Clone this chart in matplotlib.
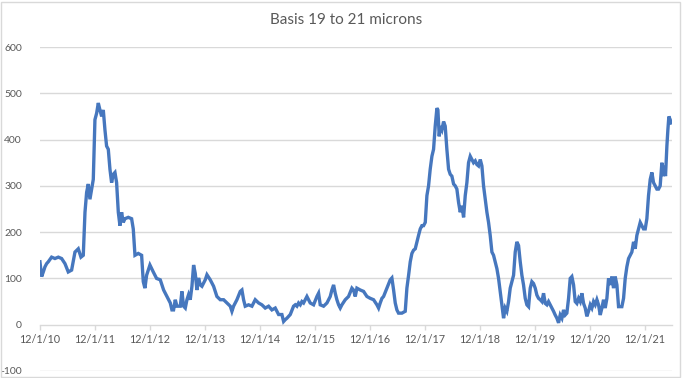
import datetime as dt
import matplotlib
matplotlib.use("Agg")
import matplotlib.pyplot as plt
import matplotlib.dates as mdates
from matplotlib.patches import Rectangle

plt.rcParams['font.family'] = ['Lato', 'DejaVu Sans']

title = "Basis 19 to 21 microns"

# decimal years (Dec 1 2010 ~ 2010.917)
years = [
    2010.916, 2010.947, 2010.977, 2011.007, 2011.038, 2011.068, 2011.128, 2011.189, 2011.250, 2011.310,
    2011.371, 2011.431, 2011.492, 2011.553, 2011.613, 2011.662, 2011.704, 2011.735, 2011.765, 2011.795,
    2011.825, 2011.856, 2011.886, 2011.916, 2011.947, 2011.977, 2012.007, 2012.038, 2012.068, 2012.098,
    2012.128, 2012.159, 2012.189, 2012.219, 2012.250, 2012.280, 2012.310, 2012.341, 2012.371, 2012.401,
    2012.431, 2012.462, 2012.522, 2012.583, 2012.613, 2012.644, 2012.704, 2012.765, 2012.795, 2012.825,
    2012.856, 2012.916, 2012.977, 2013.037,
    2013.104, 2013.165, 2013.225, 2013.286, 2013.316, 2013.346, 2013.377, 2013.407, 2013.468, 2013.498,
    2013.528, 2013.559, 2013.589, 2013.619, 2013.649, 2013.680, 2013.710, 2013.740, 2013.771, 2013.801,
    2013.831, 2013.862, 2013.922, 2013.953, 2014.013, 2014.074, 2014.134, 2014.195, 2014.256, 2014.316,
    2014.377, 2014.407, 2014.437, 2014.498, 2014.559, 2014.589, 2014.619, 2014.649, 2014.710, 2014.771,
    2014.831, 2014.892, 2014.952, 2015.013, 2015.074, 2015.134, 2015.195, 2015.256, 2015.316,
    2015.347, 2015.377, 2015.407, 2015.468, 2015.528, 2015.559, 2015.589, 2015.619, 2015.650, 2015.680,
    2015.710, 2015.741, 2015.771, 2015.801, 2015.831, 2015.892, 2015.953, 2015.983, 2016.013, 2016.074,
    2016.135, 2016.195, 2016.225, 2016.256, 2016.286, 2016.316, 2016.347, 2016.377, 2016.407, 2016.468,
    2016.528, 2016.589, 2016.619, 2016.650, 2016.680, 2016.741, 2016.801, 2016.862, 2016.922, 2016.983,
    2017.044, 2017.074, 2017.104, 2017.135, 2017.165, 2017.225, 2017.286, 2017.316, 2017.347, 2017.377,
    2017.407, 2017.437, 2017.498, 2017.559,
    2017.589, 2017.620, 2017.650, 2017.680, 2017.710, 2017.741, 2017.771, 2017.801, 2017.832, 2017.862,
    2017.892, 2017.923, 2017.953, 2017.983, 2018.013, 2018.044, 2018.074, 2018.104, 2018.135, 2018.153,
    2018.177, 2018.195, 2018.226, 2018.256, 2018.286, 2018.316, 2018.347, 2018.377, 2018.407, 2018.438,
    2018.468, 2018.498, 2018.529, 2018.559, 2018.589, 2018.620, 2018.650, 2018.680, 2018.710, 2018.741,
    2018.771, 2018.801, 2018.832, 2018.862, 2018.892, 2018.923, 2018.953, 2018.983, 2019.014, 2019.044,
    2019.074, 2019.104, 2019.135, 2019.165, 2019.195, 2019.226, 2019.256, 2019.286, 2019.317, 2019.347,
    2019.377, 2019.407, 2019.438, 2019.468, 2019.498, 2019.529, 2019.559, 2019.589, 2019.620, 2019.650,
    2019.680, 2019.710, 2019.741, 2019.771,
    2019.802, 2019.832, 2019.862, 2019.892, 2019.923, 2019.953, 2019.983, 2020.014, 2020.044, 2020.074,
    2020.105, 2020.135, 2020.165, 2020.195, 2020.226, 2020.256, 2020.286, 2020.317, 2020.347, 2020.377,
    2020.408, 2020.438, 2020.468, 2020.498, 2020.529, 2020.559, 2020.589, 2020.620, 2020.650, 2020.680,
    2020.711, 2020.741, 2020.771, 2020.802, 2020.832, 2020.862, 2020.892, 2020.923, 2020.953, 2020.983,
    2021.014, 2021.044, 2021.074, 2021.105, 2021.135, 2021.165, 2021.195, 2021.226, 2021.256, 2021.286,
    2021.317, 2021.347, 2021.377, 2021.408, 2021.438, 2021.468, 2021.498, 2021.529, 2021.559, 2021.589,
    2021.620, 2021.650, 2021.680, 2021.711, 2021.741, 2021.771, 2021.802, 2021.832, 2021.862, 2021.892,
    2021.923, 2021.953, 2021.983, 2022.014, 2022.044, 2022.074, 2022.105, 2022.135, 2022.165, 2022.195,
    2022.226, 2022.244, 2022.268, 2022.292, 2022.317, 2022.335, 2022.353, 2022.377, 2022.395,
]

basis = [
    136, 104, 114, 125, 132, 136, 146, 143, 146, 143,
    132, 114, 118, 157, 164, 146, 150, 243, 286, 304,
    271, 293, 314, 443, 457, 479, 464, 450, 464, 421,
    386, 379, 336, 307, 325, 329, 307, 243, 214, 243,
    221, 229, 232, 229, 207, 150, 154, 150, 93, 79,
    107, 129, 114, 100,
    97, 75, 61, 47, 32, 32, 54, 40, 40, 72,
    40, 36, 54, 65, 54, 83, 129, 111, 75, 101,
    86, 83, 97, 108, 97, 83, 61, 54, 54, 47,
    40, 29, 40, 54, 72, 75, 54, 40, 43, 40,
    54, 47, 43, 36, 40, 32, 36, 22, 22,
    7, 11, 14, 22, 40, 43, 40, 47, 43, 50,
    47, 54, 61, 54, 47, 43, 61, 68, 43, 40,
    47, 61, 75, 86, 68, 54, 43, 36, 43, 54,
    61, 79, 75, 61, 79, 75, 72, 61, 57, 54,
    43, 36, 47, 57, 61, 79, 97, 101, 75, 47,
    32, 25, 25, 29,
    79, 107, 136, 154, 161, 164, 179, 193, 207, 214,
    214, 221, 279, 300, 336, 364, 379, 429, 468, 464,
    407, 429, 421, 439, 429, 379, 336, 325, 321, 304,
    300, 293, 264, 243, 257, 232, 279, 307, 350, 364,
    357, 350, 354, 346, 343, 357, 343, 300, 271, 243,
    221, 193, 157, 150, 136, 121, 100, 71, 43, 14,
    36, 29, 50, 79, 93, 107, 157, 179, 171, 136,
    107, 86, 57, 43,
    39, 79, 93, 89, 79, 64, 57, 54, 50, 68,
    46, 43, 50, 43, 36, 29, 21, 14, 4, 21,
    14, 32, 21, 25, 57, 100, 104, 86, 50, 46,
    57, 50, 68, 46, 36, 18, 29, 43, 36, 50,
    43, 54, 43, 21, 36, 54, 36, 57, 100, 86,
    104, 79, 104, 86, 39, 39, 39, 57, 100, 125,
    143, 150, 157, 179, 164, 193, 207, 221, 214, 207,
    207, 229, 279, 314, 329, 307, 300, 293, 293, 300,
    350, 321, 343, 321, 386, 421, 450, 443, 436,
]

tick_years = list(range(2010, 2022))
tick_labels = ["12/1/10", "12/1/11", "12/1/12", "12/1/13", "12/1/14", "12/1/15",
               "12/1/16", "12/1/17", "12/1/18", "12/1/19", "12/1/20", "12/1/21"]
y_ticks = [-100, 0, 100, 200, 300, 400, 500, 600]

base_day = mdates.date2num(dt.datetime(2010, 12, 1))
def to_num(yr):
    return base_day + (yr - 2010.917) * 365.25

xs = [to_num(y) for y in years]
tick_pos = [mdates.date2num(dt.datetime(y, 12, 1)) for y in tick_years]

gray_txt = '#595959'
grid_c = '#d9d9d9'
line_c = '#4677be'

fig = plt.figure(figsize=(6.82, 3.78), dpi=100)
ax = fig.add_axes([40/682, 1 - 371/378, (672-40)/682, (371-47)/378])

for v in y_ticks:
    if v != 0:
        ax.axhline(v, color=grid_c, lw=1.0, zorder=0)

ax.plot(xs, basis, color=line_c, lw=2.4, solid_joinstyle='miter', zorder=3)

ax.set_ylim(-100, 600)
ax.set_xlim(tick_pos[0], to_num(2022.41))
ax.set_yticks(y_ticks)
ax.set_yticklabels([str(v) for v in y_ticks])
ax.set_xticks(tick_pos)
ax.set_xticklabels(tick_labels)

for s in ['top', 'right', 'left']:
    ax.spines[s].set_visible(False)
ax.spines['bottom'].set_position(('data', 0))
ax.spines['bottom'].set_color(grid_c)
ax.spines['bottom'].set_linewidth(1.0)

ax.tick_params(axis='y', length=0, pad=13, labelsize=7.5, labelcolor=gray_txt)
ax.tick_params(axis='x', length=3.5, width=1.0, color=grid_c, pad=3, labelsize=7.8, labelcolor=gray_txt)
for lab in ax.get_yticklabels():
    lab.set_horizontalalignment('right')

fig.text(0.507, 1 - 20/378, title, ha='center', va='center', fontsize=11, color=gray_txt)

fig.patches.append(Rectangle((0.002, 0.003), 0.995, 0.993, transform=fig.transFigure,
                             fill=False, edgecolor=grid_c, lw=1.0))

fig.savefig('out.png', dpi=100)
